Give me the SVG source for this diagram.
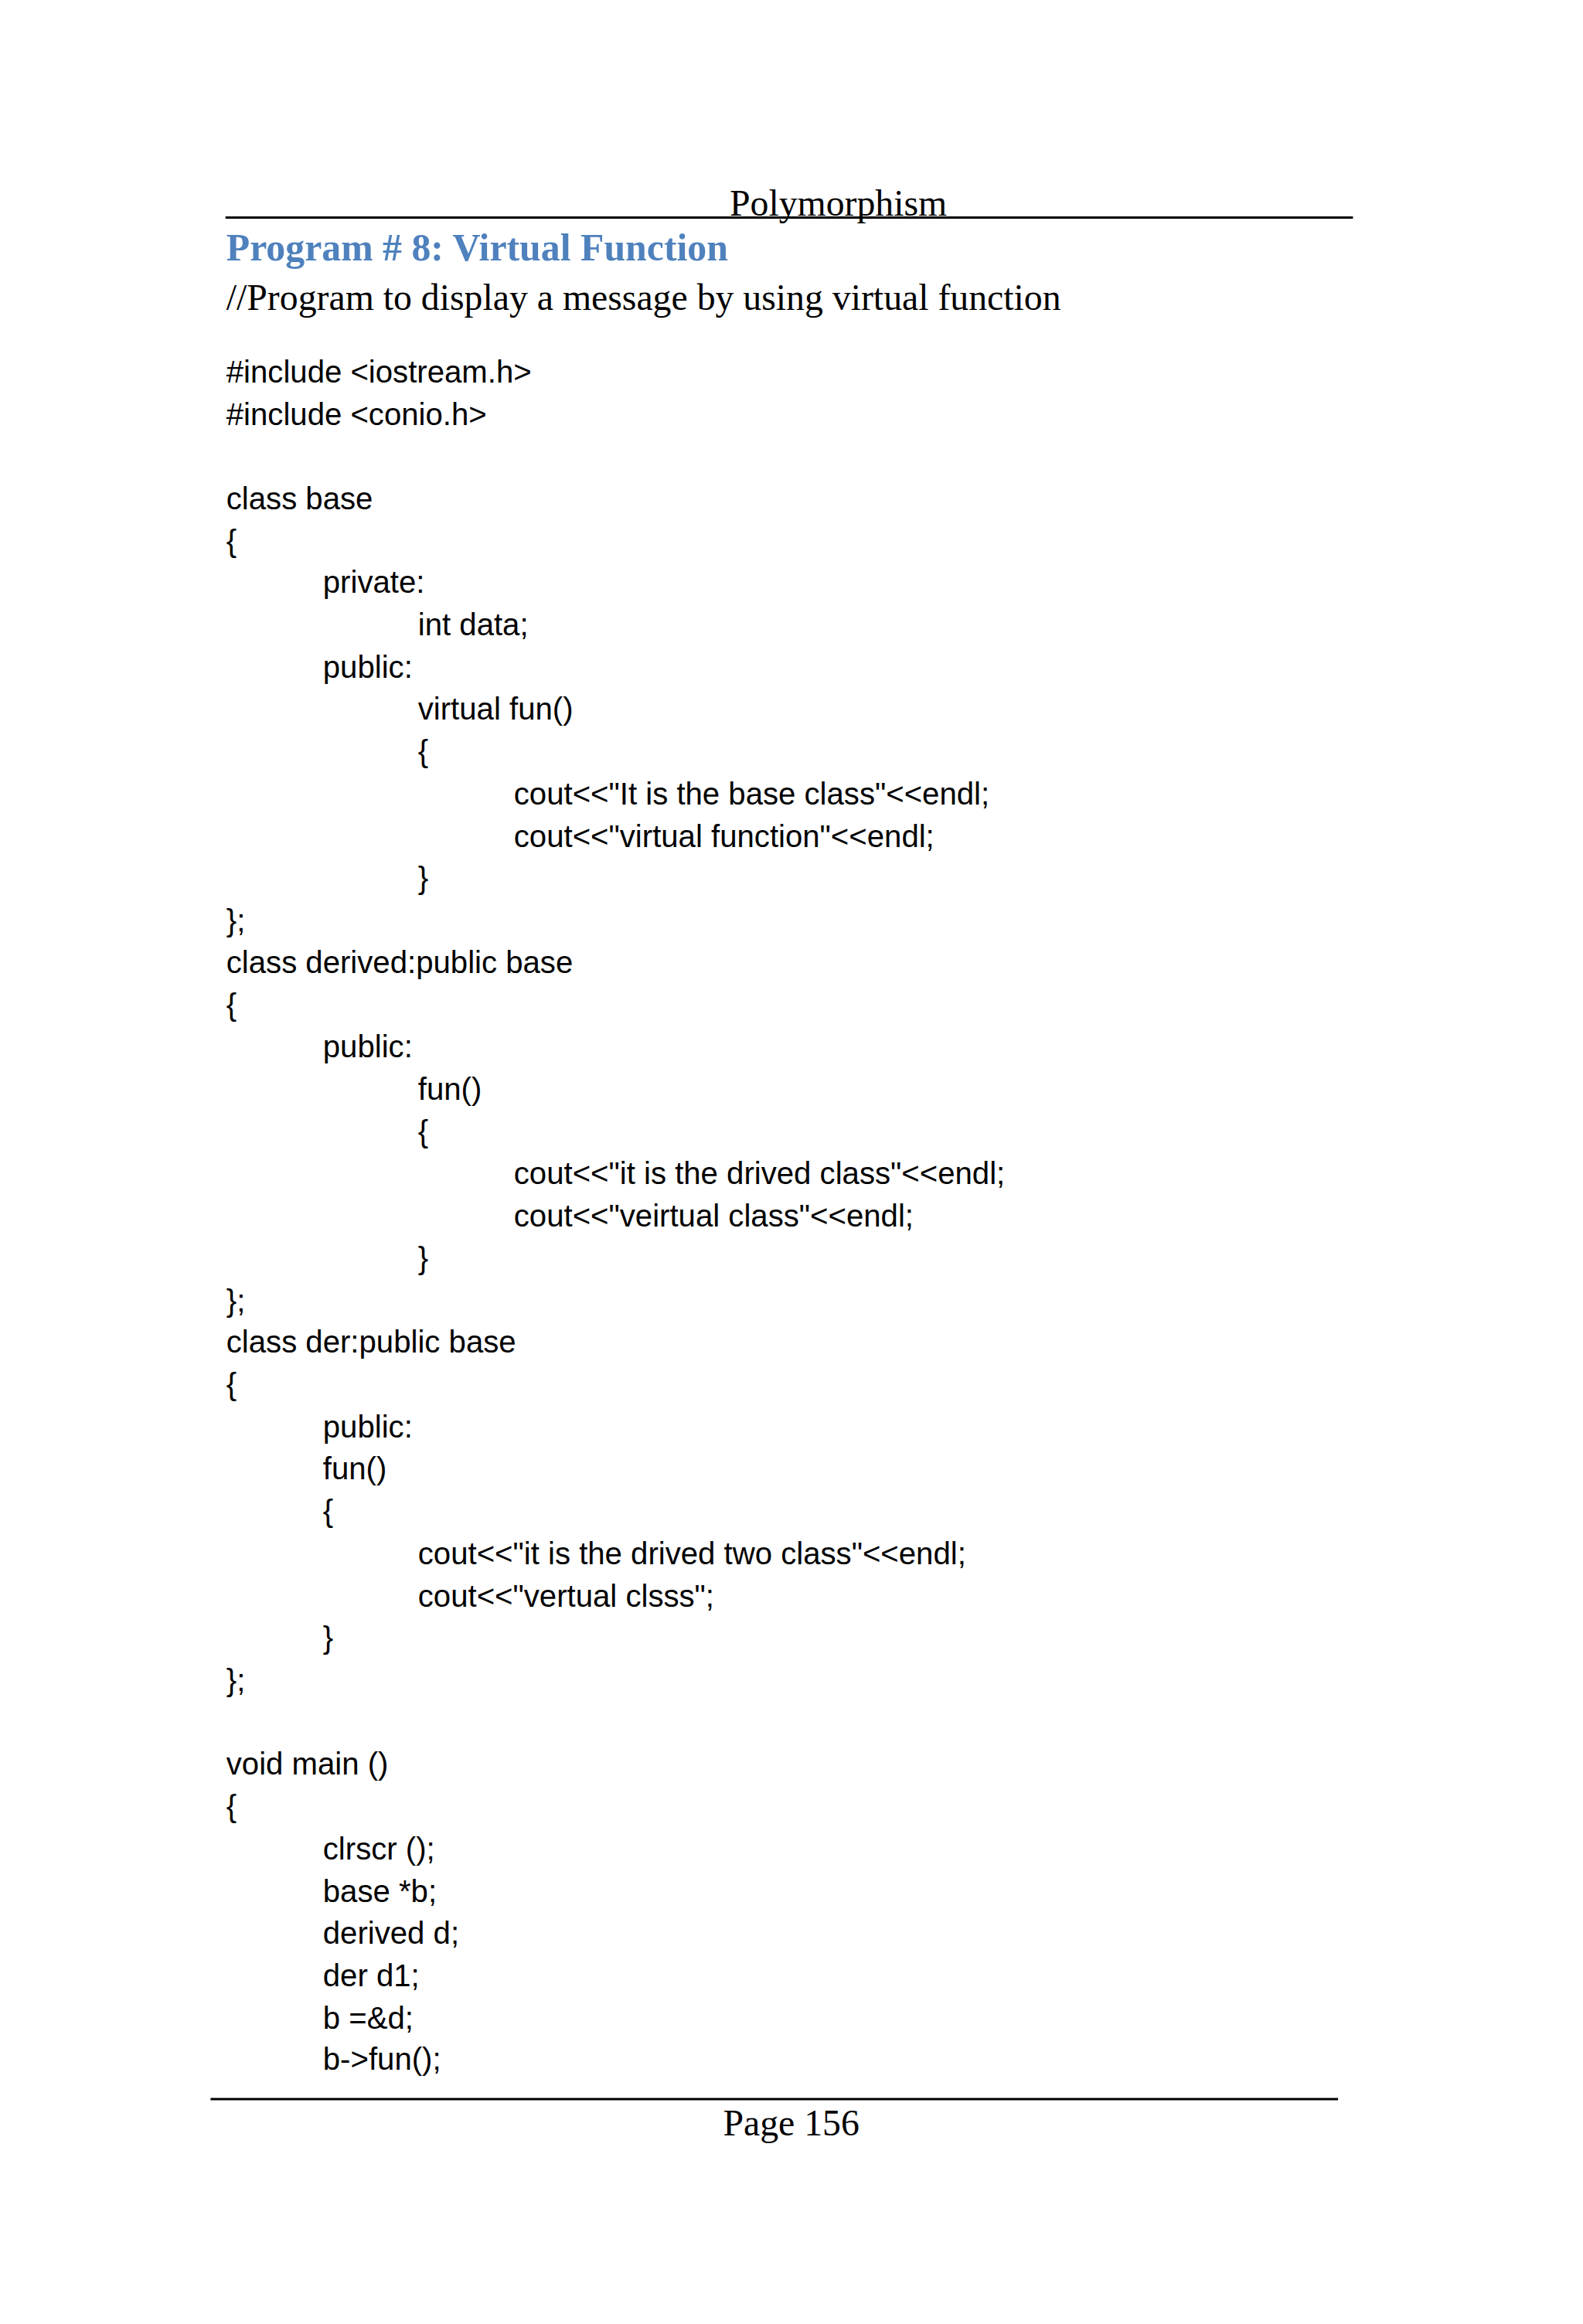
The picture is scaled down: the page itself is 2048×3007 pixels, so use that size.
<svg xmlns="http://www.w3.org/2000/svg" width="2048" height="3007" viewBox="0 0 2048 3007">
<style>
.c{font-family:"Liberation Sans",Arial,sans-serif;font-size:39.5px;fill:#000}
.s{font-family:"Liberation Serif","Times New Roman",serif;font-size:47px;fill:#000}
.t{font-family:"Liberation Serif",serif;font-size:49px;font-weight:bold;fill:#4F81BD}
</style>
<rect width="2048" height="3007" fill="#fff"/>
<g transform="scale(1.0165)">
<line x1="287" y1="277" x2="1722" y2="277" stroke="#000" stroke-width="3"/>
<text class="s" x="1067" y="274" text-anchor="middle">Polymorphism</text>
<text class="t" x="288" y="332">Program # 8: Virtual Function</text>
<text class="s" x="288" y="394">//Program to display a message by using virtual function</text>
<g class="c">
<text x="288" y="487">#include &lt;iostream.h&gt;</text>
<text x="288" y="541">#include &lt;conio.h&gt;</text>
<text x="288" y="648">class base</text>
<text x="288" y="702">{</text>
<text x="411" y="755">private:</text>
<text x="532" y="809">int data;</text>
<text x="411" y="863">public:</text>
<text x="532" y="916">virtual fun()</text>
<text x="532" y="970">{</text>
<text x="654" y="1024">cout&lt;&lt;"It is the base class"&lt;&lt;endl;</text>
<text x="654" y="1078">cout&lt;&lt;"virtual function"&lt;&lt;endl;</text>
<text x="532" y="1131">}</text>
<text x="288" y="1185">};</text>
<text x="288" y="1239">class derived:public base</text>
<text x="288" y="1293">{</text>
<text x="411" y="1346">public:</text>
<text x="532" y="1400">fun()</text>
<text x="532" y="1454">{</text>
<text x="654" y="1507">cout&lt;&lt;"it is the drived class"&lt;&lt;endl;</text>
<text x="654" y="1561">cout&lt;&lt;"veirtual class"&lt;&lt;endl;</text>
<text x="532" y="1615">}</text>
<text x="288" y="1669">};</text>
<text x="288" y="1722">class der:public base</text>
<text x="288" y="1776">{</text>
<text x="411" y="1830">public:</text>
<text x="411" y="1883">fun()</text>
<text x="411" y="1937">{</text>
<text x="532" y="1991">cout&lt;&lt;"it is the drived two class"&lt;&lt;endl;</text>
<text x="532" y="2045">cout&lt;&lt;"vertual clsss";</text>
<text x="411" y="2098">}</text>
<text x="288" y="2152">};</text>
<text x="288" y="2259">void main ()</text>
<text x="288" y="2313">{</text>
<text x="411" y="2367">clrscr ();</text>
<text x="411" y="2421">base *b;</text>
<text x="411" y="2474">derived d;</text>
<text x="411" y="2528">der d1;</text>
<text x="411" y="2582">b =&amp;d;</text>
<text x="411" y="2635">b-&gt;fun();</text>
</g>
<line x1="268" y1="2672" x2="1703" y2="2672" stroke="#000" stroke-width="3"/>
<text class="s" x="1007" y="2718" text-anchor="middle">Page 156</text>
</g>
</svg>
